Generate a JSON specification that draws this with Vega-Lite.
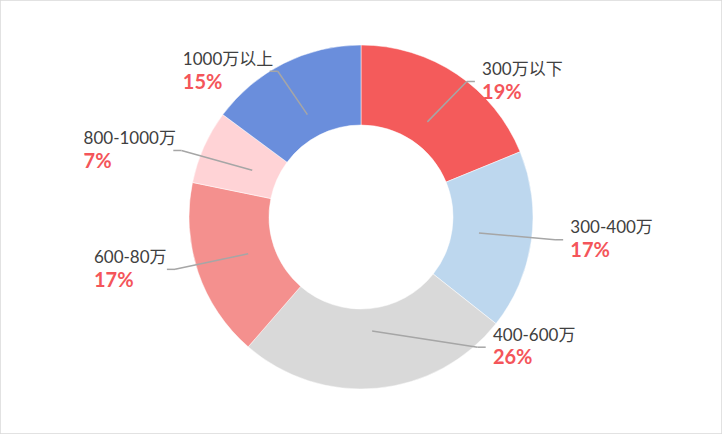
{
  "$schema": "https://vega.github.io/schema/vega-lite/v6.json",
  "width": 722,
  "height": 434,
  "autosize": {"type": "fit", "contains": "padding"},
  "padding": 0,
  "background": "white",
  "config": {"view": {"stroke": "#D9D9D9", "strokeWidth": 1.5}},
  "data": {
    "values": [
      {"idx": 1, "label": "300万以下", "pct": 19},
      {"idx": 2, "label": "300-400万", "pct": 17},
      {"idx": 3, "label": "400-600万", "pct": 26},
      {"idx": 4, "label": "600-80万", "pct": 17},
      {"idx": 5, "label": "800-1000万", "pct": 7},
      {"idx": 6, "label": "1000万以上", "pct": 15}
    ]
  },
  "transform": [
    {"joinaggregate": [{"op": "sum", "field": "pct", "as": "total"}]},
    {"window": [{"op": "sum", "field": "pct", "as": "cum"}], "sort": [{"field": "idx"}], "frame": [null, 0]},
    {"calculate": "(datum.cum - datum.pct) / datum.total", "as": "start"},
    {"calculate": "datum.cum / datum.total", "as": "end"},
    {"calculate": "(datum.start + datum.end) * PI", "as": "a"},
    {"calculate": "132 * sin(datum.a)", "as": "ix"},
    {"calculate": "-132 * cos(datum.a)", "as": "iy"},
    {"calculate": "sin(datum.a) >= 0 ? 1 : -1", "as": "side"},
    {"calculate": "clamp(-188 * cos(datum.a), -176, 150)", "as": "ey"},
    {"calculate": "datum.side * max(abs(205 * sin(datum.a)), sqrt(max(0, 172 * 172 - datum.ey * datum.ey)) + 45)", "as": "ex"},
    {"calculate": "datum.ex + datum.side * 9", "as": "tx"},
    {"calculate": "length(replace(datum.label, regexp('[0-9-]', 'g'), ''))", "as": "ncjk"},
    {"calculate": "(length(datum.label) - datum.ncjk) * 9.3 + datum.ncjk * 17", "as": "tw"},
    {"calculate": "datum.side > 0 ? datum.tx + 8 : datum.tx - 8 - datum.tw", "as": "lx"},
    {"calculate": "datum.ey - 13", "as": "ny"},
    {"calculate": "datum.ey + 13", "as": "py"},
    {"calculate": "datum.pct + '%'", "as": "pct_text"}
  ],
  "layer": [
    {
      "mark": {"type": "arc", "outerRadius": 172, "innerRadius": 92, "stroke": "white", "strokeWidth": 0.5},
      "encoding": {
        "theta": {"field": "start", "type": "quantitative", "scale": {"domain": [0, 1], "range": [0, 6.283185307179586]}},
        "theta2": {"field": "end"},
        "color": {
          "field": "label",
          "type": "nominal",
          "legend": null,
          "scale": {
            "domain": ["300万以下", "300-400万", "400-600万", "600-80万", "800-1000万", "1000万以上"],
            "range": ["#F45B5B", "#BDD7EE", "#D9D9D9", "#F4908E", "#FFD3D6", "#6A8EDC"]
          }
        }
      }
    },
    {
      "mark": {"type": "rule", "color": "#A6A6A6", "strokeWidth": 1.5},
      "encoding": {
        "x": {"field": "ix", "type": "quantitative", "axis": null, "scale": {"domain": [-361, 361]}},
        "y": {"field": "iy", "type": "quantitative", "axis": null, "scale": {"domain": [-217, 217], "reverse": true}},
        "x2": {"field": "ex"},
        "y2": {"field": "ey"}
      }
    },
    {
      "mark": {"type": "rule", "color": "#A6A6A6", "strokeWidth": 1.5},
      "encoding": {
        "x": {"field": "ex", "type": "quantitative"},
        "y": {"field": "ey", "type": "quantitative"},
        "x2": {"field": "tx"}
      }
    },
    {
      "mark": {"type": "text", "align": "left", "baseline": "middle", "font": "Lato, Noto Sans CJK SC", "fontSize": 17, "color": "#404040"},
      "encoding": {
        "x": {"field": "lx", "type": "quantitative"},
        "y": {"field": "ny", "type": "quantitative"},
        "text": {"field": "label"}
      }
    },
    {
      "mark": {"type": "text", "align": "left", "baseline": "middle", "font": "Lato, Noto Sans CJK SC", "fontSize": 20, "fontWeight": "bold", "color": "#F4555A"},
      "encoding": {
        "x": {"field": "lx", "type": "quantitative"},
        "y": {"field": "py", "type": "quantitative"},
        "text": {"field": "pct_text"}
      }
    }
  ]
}
